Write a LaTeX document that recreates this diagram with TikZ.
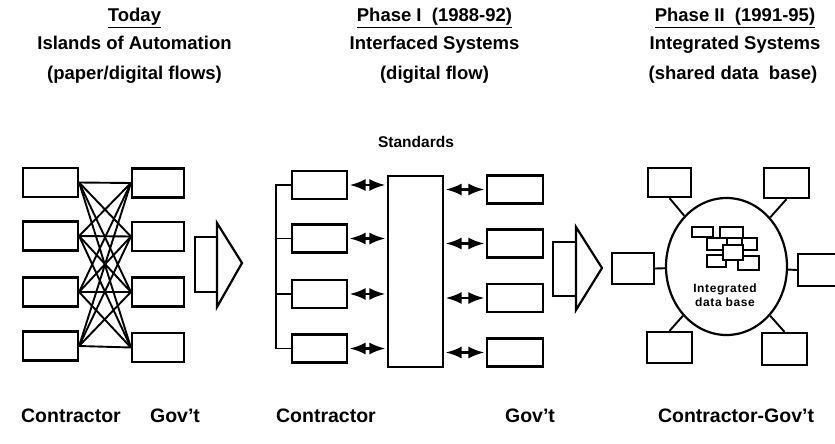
\documentclass[tikz,border=0pt]{standalone}
\usepackage{fontspec}
\setmainfont{Liberation Sans}
\usetikzlibrary{arrows.meta,shapes.geometric}
\begin{document}
\begin{tikzpicture}[x=1pt,y=-1pt,
  box/.style={draw, line width=2.2pt, inner sep=0pt, fill=white},
  wire/.style={line width=1.9pt},
  dbl/.style={line width=2.4pt, {Latex[length=16pt,width=12pt]}-{Latex[length=16pt,width=12pt]}, shorten <=1.5pt, shorten >=1.5pt},
  head/.style={anchor=base, font=\fontsize{18.5}{20}\selectfont\bfseries},
  foot/.style={anchor=base, font=\fontsize{19.5}{22}\selectfont\bfseries},
  small/.style={anchor=base, font=\fontsize{15.5}{18}\selectfont\bfseries},
  tiny/.style={anchor=base, font=\fontsize{12}{12}\selectfont\bfseries\addfontfeature{LetterSpace=5}},
  blockarrow/.style={draw, line width=2.2pt, fill=white, line join=miter}]
\useasboundingbox (0,0) rectangle (835,444);
\clip (0,0) rectangle (835,444);

% ---------- headers ----------
\node[head] (h1a) at (134.5,22) {\underline{Today}};
\node[head] (h1b) at (134.5,49) {Islands of Automation};
\node[head] (h1c) at (134.5,79) {(paper/digital flows)};
\node[head] (h2a) at (434.5,22) {\underline{Phase I\ \ (1988-92)}};
\node[head] (h2b) at (434.5,49) {Interfaced Systems};
\node[head] (h2c) at (434.5,79) {(digital flow)};
\node[head] (h3a) at (735,22) {\underline{Phase II\ \ (1991-95)}};
\node[head] (h3b) at (735,49) {Integrated Systems};
\node[head] (h3c) at (733,79) {(shared data\ \ base)};

% ---------- Today ----------
\foreach \n/\y in {1/182.5,2/236,3/292,4/346}
  \node[box, minimum width=55pt, minimum height=29pt] (L\n) at (50.5,\y) {};
\foreach \n/\y in {1/183,2/236.5,3/292,4/347.5}
  \node[box, minimum width=52pt, minimum height=29pt] (R\n) at (158,\y) {};
\foreach \i in {1,2,3,4}
  \foreach \j in {1,2,3,4}
    \draw[wire] (L\i.east) -- (R\j.west);
\draw[blockarrow] (195,237) rectangle (217,292);
\draw[blockarrow] (217,223) -- (242,263) -- (217,307) -- cycle;

% ---------- Phase I ----------
\node[small] (std-t) at (416,147) {Standards};
\node[box, minimum width=55pt, minimum height=191pt] (std) at (415.5,271.5) {};
\foreach \n/\y in {1/185,2/238.5,3/294,4/348.5}
  \node[box, minimum width=55pt, minimum height=28pt] (lb\n) at (319.5,\y) {};
\foreach \n/\y in {1/189.5,2/243.5,3/298,4/352.5}
  \node[box, minimum width=56pt, minimum height=28pt] (rb\n) at (515,\y) {};
\coordinate (bk) at (276,0);
\draw[wire] (lb1.west) -| (bk |- lb4.west) -- (lb4.west);
\draw[wire] (lb2.west) -- (bk |- lb2.west);
\draw[wire] (lb3.west) -- (bk |- lb3.west);
\foreach \n in {1,2,3,4} {
  \draw[dbl] (lb\n.east) -- (lb\n.east -| std.west);
  \draw[dbl] (std.east |- rb\n.west) -- (rb\n.west);
}
\draw[blockarrow] (553,242) rectangle (576,296);
\draw[blockarrow] (576,227) -- (602,268) -- (576,310) -- cycle;

% ---------- Phase II ----------
\node[draw, line width=2.2pt, ellipse, minimum width=121pt, minimum height=137pt, inner sep=0pt] (db) at (726.5,266.5) {};
\node[box, minimum width=43pt, minimum height=29pt] (tl) at (669.5,182.5) {};
\node[box, minimum width=45pt, minimum height=30pt] (tr) at (786.5,183) {};
\node[box, minimum width=42pt, minimum height=31pt] (lf) at (633,268.5) {};
\node[box, minimum width=50pt, minimum height=32pt] (rt) at (823,270) {};
\node[box, minimum width=45pt, minimum height=31pt] (bl) at (669.5,347.5) {};
\node[box, minimum width=45pt, minimum height=32pt] (br) at (784.5,349) {};
\draw[wire] (tl.south) -- (db);
\draw[wire] (tr.south) -- (db);
\draw[wire] (lf.east) -- (db);
\draw[wire] (rt.west) -- (db);
\draw[wire] (bl.north) -- (db);
\draw[wire] (br.north) -- (db);
% database icon
\begin{scope}[line width=1.9pt]
  \filldraw[fill=white] (707,238) rectangle (727,250);
  \filldraw[fill=white] (742,238) rectangle (757,250);
  \filldraw[fill=white] (692,227) rectangle (713,237);
  \filldraw[fill=white] (720,227) rectangle (743,238);
  \filldraw[fill=white] (707,255) rectangle (726,267);
  \filldraw[fill=white] (738,256) rectangle (759,270);
  \filldraw[fill=white] (723,245) rectangle (743,260);
\end{scope}
\node[tiny] (dbt1) at (725,292) {Integrated};
\node[tiny] (dbt2) at (725,306) {data base};

% ---------- footers ----------
\node[foot] (f1) at (71,422) {Contractor};
\node[foot] (f2) at (175,422) {Gov't};
\node[foot] (f3) at (326,422) {Contractor};
\node[foot] (f4) at (530,422) {Gov't};
\node[foot] (f5) at (736,422) {Contractor-Gov't};
\end{tikzpicture}
\end{document}
